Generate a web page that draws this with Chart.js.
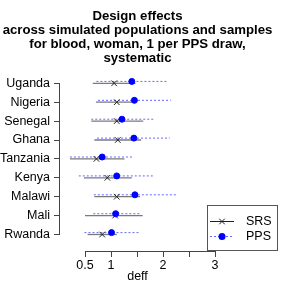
<!DOCTYPE html>
<html>
<head>
<meta charset="utf-8">
<script src="https://cdn.jsdelivr.net/npm/chart.js@4"></script>
<style>
  body { margin: 0; background: #fff; }
</style>
</head>
<body>
<canvas id="deffChart" width="285" height="285"></canvas>
<script>
// Design effects per country
const countries = ['Uganda', 'Nigeria', 'Senegal', 'Ghana', 'Tanzania', 'Kenya', 'Malawi', 'Mali', 'Rwanda'];

const srsEst = [1.06, 1.11, 1.11, 1.13, 0.72, 0.93, 1.11, 1.08, 0.83];
const srsLo  = [0.65, 0.71, 0.62, 0.68, 0.21, 0.48, 0.68, 0.50, 0.55];
const srsHi  = [1.47, 1.43, 1.62, 1.58, 1.26, 1.40, 1.56, 1.61, 1.11];

const ppsEst = [1.40, 1.45, 1.21, 1.44, 0.83, 1.11, 1.46, 1.09, 1.01];
const ppsLo  = [0.72, 0.75, 0.62, 0.73, 0.21, 0.38, 0.67, 0.66, 0.49];
const ppsHi  = [2.07, 2.15, 1.83, 2.13, 1.43, 1.83, 2.25, 1.56, 1.53];

const xTicks = [0.5, 1, 1.5, 2, 2.5, 3];
const xLabels = ['0.5', '1', '2', '3'];

const FONT = "'Liberation Sans', Arial, Helvetica, sans-serif";
const SRS_COLOR = '#222';
const SRS_LINE = '#7a7a7a';
const PPS_COLOR = '#0000ff';
const PPS_LINE = 'rgba(40,40,255,0.7)';
const PPS_SHIFT = -0.1; // PPS rows sit a little above the SRS rows

const datasets = [];

// PPS estimates (on top)
datasets.push({
    label: 'PPS',
    data: ppsEst.map((v, i) => ({ x: v, y: i + PPS_SHIFT })),
    pointStyle: 'circle',
    pointRadius: 3,
    backgroundColor: PPS_COLOR,
    borderColor: PPS_COLOR,
    borderWidth: 1,
    order: 0,
});

// SRS estimates
datasets.push({
    label: 'SRS',
    data: srsEst.map((v, i) => ({ x: v, y: i })),
    pointStyle: 'crossRot',
    pointRadius: 4,
    borderColor: SRS_COLOR,
    borderWidth: 1,
    order: 1,
});

// interval lines
countries.forEach((c, i) => {
    datasets.push({
        label: 'PPS ' + c,
        data: [{ x: ppsLo[i], y: i + PPS_SHIFT }, { x: ppsHi[i], y: i + PPS_SHIFT }],
        showLine: true,
        pointRadius: 0,
        borderColor: PPS_LINE,
        borderWidth: 1,
        borderDash: [2, 2],
        order: 2,
    });
    datasets.push({
        label: 'SRS ' + c,
        data: [{ x: srsLo[i], y: i }, { x: srsHi[i], y: i }],
        showLine: true,
        pointRadius: 0,
        borderColor: SRS_LINE,
        borderWidth: 1.3,
        order: 3,
    });
});

// R-style axis lines (only between first and last tick) and the boxed legend
const rAxes = {
    id: 'rAxes',
    afterDraw(chart) {
        const { ctx, chartArea, scales } = chart;
        const x = scales.x, y = scales.y;
        ctx.save();
        ctx.strokeStyle = '#444';
        ctx.lineWidth = 1;
        ctx.beginPath();
        const by = Math.round(chartArea.bottom) + 0.5;
        ctx.moveTo(x.getPixelForValue(xTicks[0]), by);
        ctx.lineTo(x.getPixelForValue(xTicks[xTicks.length - 1]), by);
        const lx = Math.round(chartArea.left) - 0.5;
        ctx.moveTo(lx, y.getPixelForValue(0));
        ctx.lineTo(lx, y.getPixelForValue(countries.length - 1));
        ctx.stroke();

        // legend box
        const bx = 207.5, byTop = 205.5, bw = 70, bh = 45;
        ctx.strokeStyle = '#555';
        ctx.strokeRect(bx, byTop, bw, bh);

        const rowY = [221, 236];
        // SRS entry
        ctx.strokeStyle = SRS_COLOR;
        ctx.beginPath();
        ctx.moveTo(210, rowY[0] + 0.5);
        ctx.lineTo(234, rowY[0] + 0.5);
        const r = 2.8;
        ctx.moveTo(222 - r, rowY[0] + 0.5 - r);
        ctx.lineTo(222 + r, rowY[0] + 0.5 + r);
        ctx.moveTo(222 - r, rowY[0] + 0.5 + r);
        ctx.lineTo(222 + r, rowY[0] + 0.5 - r);
        ctx.stroke();
        // PPS entry
        ctx.strokeStyle = PPS_LINE;
        ctx.setLineDash([2, 2]);
        ctx.beginPath();
        ctx.moveTo(210, rowY[1] + 0.5);
        ctx.lineTo(234, rowY[1] + 0.5);
        ctx.stroke();
        ctx.setLineDash([]);
        ctx.fillStyle = PPS_COLOR;
        ctx.beginPath();
        ctx.arc(222, rowY[1] + 0.5, 3.5, 0, Math.PI * 2);
        ctx.fill();

        ctx.fillStyle = '#000';
        ctx.font = '12.5px ' + FONT;
        ctx.textBaseline = 'middle';
        ctx.textAlign = 'left';
        ctx.fillText('SRS', 246, rowY[0] + 1);
        ctx.fillText('PPS', 246, rowY[1] + 1);
        ctx.restore();
    },
};

const ctx = document.getElementById('deffChart').getContext('2d');
new Chart(ctx, {
    type: 'scatter',
    data: { datasets },
    options: {
        responsive: false,
        animation: false,
        layout: { padding: { left: 0, right: 10, top: 0, bottom: 0 } },
        plugins: {
            legend: { display: false },
            tooltip: { enabled: false },
            title: {
                display: true,
                text: ['Design effects', 'across simulated populations and samples', 'for blood, woman, 1 per PPS draw,', 'systematic'],
                color: '#000',
                font: { family: FONT, size: 13.2, weight: 'bold', lineHeight: 14 / 13.2 },
                padding: { top: 9, bottom: 5 },
            },
        },
        scales: {
            x: {
                type: 'linear',
                min: 0.0192,
                max: 3.0,
                afterBuildTicks: (scale) => { scale.ticks = xTicks.map((v) => ({ value: v })); },
                afterFit: (scale) => { scale.height = 34; },
                ticks: {
                    color: '#000',
                    font: { family: FONT, size: 12.5 },
                    padding: 1,
                    maxRotation: 0,
                    autoSkip: false,
                    callback: (v) => (xLabels.includes(String(v)) ? String(v) : ''),
                },
                grid: { drawOnChartArea: false, tickLength: 6, color: '#444' },
                border: { display: false },
                title: {
                    display: true,
                    text: 'deff',
                    color: '#000',
                    font: { family: FONT, size: 12.5 },
                    padding: { top: 0, bottom: 1 },
                },
            },
            y: {
                type: 'linear',
                reverse: true,
                min: -0.704,
                max: 8.873,
                afterBuildTicks: (scale) => { scale.ticks = countries.map((c, i) => ({ value: i })); },
                afterFit: (scale) => { scale.width = 60; },
                ticks: {
                    color: '#000',
                    font: { family: FONT, size: 12.5 },
                    padding: 4,
                    autoSkip: false,
                    callback: (v) => countries[v],
                },
                grid: { drawOnChartArea: false, tickLength: 6, color: '#444' },
                border: { display: false },
            },
            yR: {
                type: 'linear',
                position: 'right',
                display: true,
                afterFit: (scale) => { scale.width = 60; },
                ticks: { display: false },
                grid: { display: false },
                border: { display: false },
            },
        },
    },
    plugins: [rAxes],
});
</script>
</body>
</html>
